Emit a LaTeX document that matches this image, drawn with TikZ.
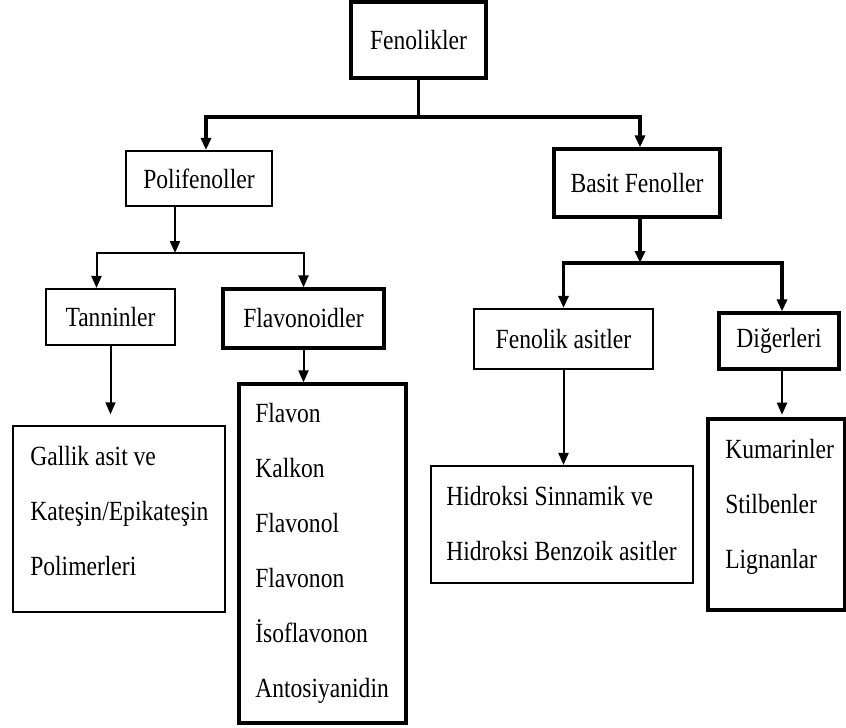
\documentclass[tikz,border=0pt]{standalone}
\usepackage{fontspec}
\setmainfont{Liberation Serif}[FakeStretch=0.85]
\usepackage{tikz}
\usetikzlibrary{arrows.meta,positioning,calc}

\begin{document}
\begin{tikzpicture}[
    x=0.75pt, y=-0.75pt,
    box/.style={draw, line width=1.6pt, inner sep=0pt,
                font=\fontsize{20.8pt}{41.25pt}\selectfont},
    boxthick/.style={box, line width=2.4pt},
    item/.style={anchor=base west, inner sep=0pt, align=left,
                 font=\fontsize{20.8pt}{41.25pt}\selectfont},
    thn/.style={line width=1.5pt},
    thk/.style={line width=2.5pt},
    arr/.style={-{Triangle[length=9pt, width=7.5pt]}}
]
\useasboundingbox (0,0) rectangle (846,728);

% Top level
\node[boxthick, minimum width=101.25pt, minimum height=57pt] (fen) at (418.5,40) {Fenolikler};

\node[box, minimum width=109.5pt, minimum height=41.25pt] (poli) at (199,178.5) {Polifenoller};
\node[boxthick, minimum width=124.5pt, minimum height=51pt] (basit) at (637,183) {Basit Fenoller};

\coordinate (j1) at (418.5,117);
\draw[thk] (fen) -- (j1);
\draw[thk, arr] (j1) -| ($(poli.north)+(7,0)$);
\draw[thk, arr] (j1) -| ($(basit.north)+(3,0)$);

% Polifenoller branch
\node[box, minimum width=96.75pt, minimum height=42pt] (tan) at (110.5,317) {Tanninler};
\node[boxthick, minimum width=120.75pt, minimum height=44.25pt] (flavd) at (303.5,318.5) {Flavonoidler};

\coordinate (j2) at (175,253);
\draw[thn, arr] (poli.south -| j2) -- (j2);
\draw[thn, arr] (j2) -| ($(tan.north)+(-14,0)$);
\draw[thn, arr] (j2) -| (flavd.north);

% list nodes sit on the baseline of their last line
\node[box, minimum width=159pt, minimum height=139.5pt] (gallik) at (119,519) {};
\node[item] (gallik-txt) at (30,575) {Gallik asit ve\\Kateşin/Epikateşin\\Polimerleri};

\node[boxthick, minimum width=125.25pt, minimum height=254.25pt] (flav) at (322.5,553.5) {};
\node[item] (flav-txt) at (255,697) {Flavon\\Kalkon\\Flavonol\\Flavonon\\İsoflavonon\\Antosiyanidin};

\draw[thn, arr, shorten >=8pt] (tan.south) -- (tan.south |- gallik.north);
\draw[thn, arr] (flavd.south) -- (flavd.south |- flav.north);

% Basit Fenoller branch
\node[box, minimum width=134.25pt, minimum height=45pt] (fenas) at (563.5,339) {Fenolik asitler};
\node[boxthick, minimum width=90pt, minimum height=42pt] (diger) at (779,341) {Diğerleri};

\coordinate (j3) at (640,263);
\draw[thk, arr] (basit.south -| j3) -- (j3);
\draw[thk, arr] (j3) -| (fenas.north);
\draw[thk, arr] (j3) -| ($(diger.north)+(3,0)$);

\node[box, minimum width=196.5pt, minimum height=87.75pt] (hidro) at (562,524.5) {};
\node[item] (hidro-txt) at (446,560) {Hidroksi Sinnamik ve\\Hidroksi Benzoik asitler};

\node[boxthick, minimum width=102.75pt, minimum height=143.25pt] (kum) at (776.5,514.5) {};
\node[item] (kum-txt) at (725,568) {Kumarinler\\Stilbenler\\Lignanlar};

\draw[thn, arr] (fenas.south) -- (fenas.south |- hidro.north);
\draw[thn, arr, shorten >=2pt] ($(diger.south)+(3,0)$) -- ($(diger.south |- kum.north)+(3,0)$);

\end{tikzpicture}
\end{document}
